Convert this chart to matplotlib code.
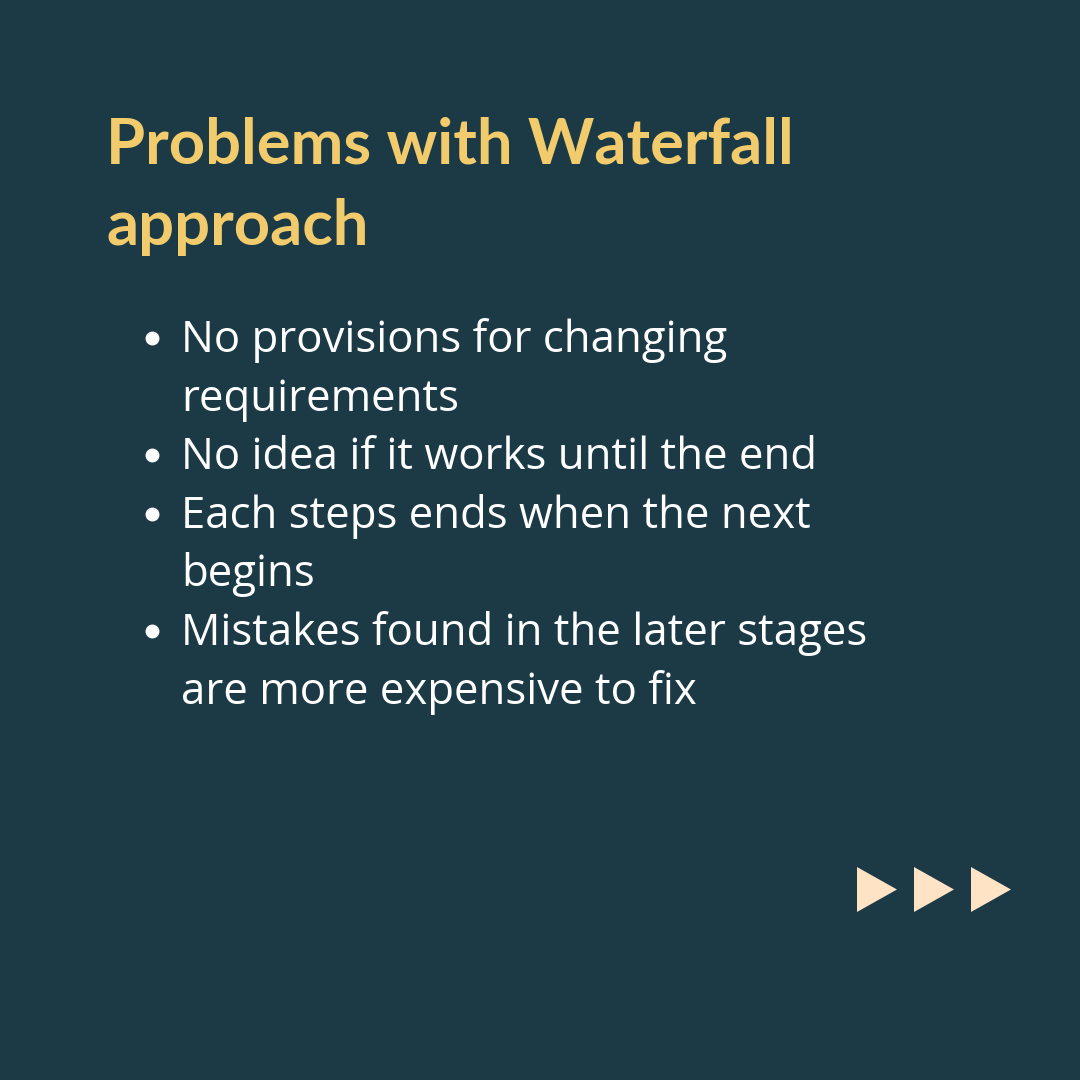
import matplotlib.pyplot as plt
from matplotlib.patches import Polygon

# slide content
title_lines = ['Problems with Waterfall', 'approach']
bullets = [
    ['No provisions for changing', 'requirements'],
    ['No idea if it works until the end'],
    ['Each steps ends when the next', 'begins'],
    ['Mistakes found in the later stages', 'are more expensive to fix'],
]
arrow_count = 3

bg = '#1b3a45'
title_col = '#f2cb6c'
arrow_col = '#ffe3c5'

fig = plt.figure(figsize=(10.8, 10.8), dpi=100)
fig.patch.set_facecolor(bg)
ax = fig.add_axes([0, 0, 1, 1])
ax.set_xlim(0, 1080)
ax.set_ylim(1080, 0)
ax.axis('off')
ax.set_facecolor(bg)

# title
y = 163
for line in title_lines:
    ax.text(106, y, line, color=title_col, fontsize=45.5, fontweight='bold',
            family='Lato', va='baseline', ha='left')
    y += 82

# bullet list
y = 352
step = 58.6
for item in bullets:
    ax.plot(152, y - 14, 'o', color='white', markersize=9)
    for line in item:
        ax.text(181, y, line, color='white', fontsize=31.5, family='Open Sans',
                va='baseline', ha='left')
        y += step

# next arrows
for i in range(arrow_count):
    x0 = 857 + i * 57
    ax.add_patch(Polygon([[x0, 867], [x0, 912], [x0 + 40, 889.5]],
                         closed=True, color=arrow_col, lw=0))

fig.savefig('out.png', dpi=100, facecolor=bg)
